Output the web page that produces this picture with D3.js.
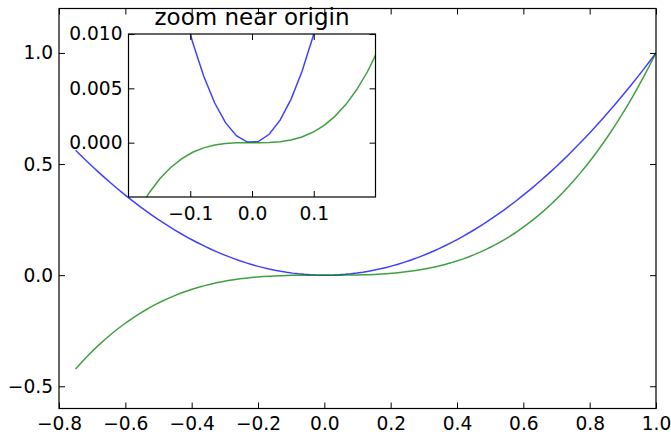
<!DOCTYPE html>
<html>
<head>
<meta charset="utf-8">
<script src="https://cdn.jsdelivr.net/npm/d3@7"></script>
<style>
  html, body { margin: 0; padding: 0; background: #fff; }
  text { font-family: "DejaVu Sans", sans-serif; fill: #000; }
</style>
</head>
<body>
<svg id="chart" width="671" height="434"></svg>
<script>
// sample positions along x
const xValues = [
  -0.7500, -0.7323, -0.7146, -0.6970, -0.6793, -0.6616, -0.6439, -0.6263, -0.6086, -0.5909,
  -0.5732, -0.5556, -0.5379, -0.5202, -0.5025, -0.4848, -0.4672, -0.4495, -0.4318, -0.4141,
  -0.3965, -0.3788, -0.3611, -0.3434, -0.3258, -0.3081, -0.2904, -0.2727, -0.2551, -0.2374,
  -0.2197, -0.2020, -0.1843, -0.1667, -0.1490, -0.1313, -0.1136, -0.0960, -0.0783, -0.0606,
  -0.0429, -0.0253, -0.0076, 0.0101, 0.0278, 0.0455, 0.0631, 0.0808, 0.0985, 0.1162,
  0.1338, 0.1515, 0.1692, 0.1869, 0.2045, 0.2222, 0.2399, 0.2576, 0.2753, 0.2929,
  0.3106, 0.3283, 0.3460, 0.3636, 0.3813, 0.3990, 0.4167, 0.4343, 0.4520, 0.4697,
  0.4874, 0.5051, 0.5227, 0.5404, 0.5581, 0.5758, 0.5934, 0.6111, 0.6288, 0.6465,
  0.6641, 0.6818, 0.6995, 0.7172, 0.7348, 0.7525, 0.7702, 0.7879, 0.8056, 0.8232,
  0.8409, 0.8586, 0.8763, 0.8939, 0.9116, 0.9293, 0.9470, 0.9646, 0.9823, 1.0000
];

// blue curve
const blueValues = [
  0.562500, 0.536297, 0.510719, 0.485767, 0.461439, 0.437736, 0.414658, 0.392205, 0.370377, 0.349173,
  0.328595, 0.308642, 0.289314, 0.270610, 0.252531, 0.235078, 0.218250, 0.202045, 0.186466, 0.171513,
  0.157184, 0.143480, 0.130401, 0.117947, 0.106118, 0.094914, 0.084334, 0.074380, 0.065051, 0.056346,
  0.048267, 0.040812, 0.033982, 0.027778, 0.022198, 0.017243, 0.012913, 0.009208, 0.006128, 0.003673,
  0.001843, 0.000638, 0.0000574, 0.000102, 0.000772, 0.002066, 0.003986, 0.006530, 0.009699, 0.013494,
  0.017913, 0.022957, 0.028625, 0.034920, 0.041839, 0.049383, 0.057552, 0.066345, 0.075764, 0.085807,
  0.096476, 0.107770, 0.119688, 0.132231, 0.145400, 0.159193, 0.173611, 0.188654, 0.204322, 0.220615,
  0.237533, 0.255076, 0.273244, 0.292036, 0.311454, 0.331497, 0.352164, 0.373457, 0.395374, 0.417917,
  0.441083, 0.464876, 0.489293, 0.514336, 0.540002, 0.566294, 0.593211, 0.620753, 0.648920, 0.677711,
  0.707128, 0.737170, 0.767837, 0.799127, 0.831044, 0.863585, 0.896752, 0.930542, 0.964958, 1.000000
];

// green curve
const greenValues = [
  -0.421875, -0.392743, -0.364984, -0.338565, -0.313453, -0.289613, -0.267014, -0.245623, -0.225406, -0.206329,
  -0.188361, -0.171468, -0.155616, -0.140772, -0.126904, -0.113977, -0.101960, -0.090818, -0.080519, -0.071030,
  -0.062318, -0.054348, -0.047089, -0.040507, -0.034569, -0.029241, -0.024491, -0.020285, -0.016591, -0.013375,
  -0.010604, -0.008245, -0.006264, -0.004630, -0.003307, -0.002264, -0.001467, -0.000884, -0.000480, -0.000223,
  -0.0000791, -0.0000161, -0.00000043, 0.00000103, 0.0000214, 0.0000939, 0.000252, 0.000528, 0.000955, 0.001567,
  0.002397, 0.003478, 0.004843, 0.006525, 0.008558, 0.010974, 0.013807, 0.017089, 0.020854, 0.025135,
  0.029966, 0.035379, 0.041407, 0.048084, 0.055443, 0.063516, 0.072338, 0.081940, 0.092358, 0.103622,
  0.115767, 0.128826, 0.142832, 0.157818, 0.173817, 0.190862, 0.208986, 0.228224, 0.248606, 0.270169,
  0.292941, 0.316961, 0.342258, 0.368867, 0.396819, 0.426150, 0.456892, 0.489078, 0.522741, 0.557913,
  0.594630, 0.632924, 0.672828, 0.714371, 0.757593, 0.802523, 0.849197, 0.897643, 0.947900, 1.000000
];

const mainXTicks = [-0.8, -0.6, -0.4, -0.2, 0.0, 0.2, 0.4, 0.6, 0.8, 1.0];
const mainYTicks = [-0.5, 0.0, 0.5, 1.0];
const insetXTicks = [-0.1, 0.0, 0.1];
const insetYTicks = [0.000, 0.005, 0.010];
const insetTitle = "zoom near origin";

const svg = d3.select("#chart");
const points = xValues.map((x, i) => ({ x: x, blue: blueValues[i], green: greenValues[i] }));

function drawAxes(opts) {
  const g = svg.append("g")
    .attr("transform", `translate(${opts.left},${opts.top})`);

  const x = d3.scaleLinear().domain(opts.xDomain).range([0, opts.width]);
  const y = d3.scaleLinear().domain(opts.yDomain).range([opts.height, 0]);

  g.append("rect")
    .attr("width", opts.width)
    .attr("height", opts.height)
    .attr("fill", "#fff");

  const clipId = "clip-" + opts.name;
  g.append("clipPath").attr("id", clipId)
    .append("rect")
    .attr("width", opts.width)
    .attr("height", opts.height);

  const lines = g.append("g").attr("clip-path", `url(#${clipId})`);

  const blueLine = d3.line().x(d => x(d.x)).y(d => y(d.blue));
  const greenLine = d3.line().x(d => x(d.x)).y(d => y(d.green));

  lines.append("path")
    .datum(points)
    .attr("fill", "none")
    .attr("stroke", "#0000ff")
    .attr("stroke-width", 1.5)
    .attr("stroke-opacity", 0.75)
    .attr("d", blueLine);

  lines.append("path")
    .datum(points)
    .attr("fill", "none")
    .attr("stroke", "#008000")
    .attr("stroke-width", 1.5)
    .attr("stroke-opacity", 0.75)
    .attr("d", greenLine);

  const tickLen = 6;
  const fmtX = d3.format(opts.xFormat);
  const fmtY = d3.format(opts.yFormat);

  // inward ticks on all four sides, labels on bottom and left
  const bottom = g.append("g").attr("transform", `translate(0,${opts.height})`)
    .call(d3.axisBottom(x).tickValues(opts.xTicks).tickSize(-tickLen).tickPadding(opts.xPad).tickFormat(fmtX));
  const top = g.append("g")
    .call(d3.axisTop(x).tickValues(opts.xTicks).tickSize(-tickLen).tickFormat(""));
  const left = g.append("g")
    .call(d3.axisLeft(y).tickValues(opts.yTicks).tickSize(-tickLen).tickPadding(6).tickFormat(fmtY));
  const right = g.append("g").attr("transform", `translate(${opts.width},0)`)
    .call(d3.axisRight(y).tickValues(opts.yTicks).tickSize(-tickLen).tickFormat(""));

  [bottom, top, left, right].forEach(ax => {
    ax.select(".domain").remove();
    ax.selectAll("line").attr("stroke", "#000").attr("stroke-width", 1);
    ax.selectAll("text")
      .attr("font-family", "DejaVu Sans, sans-serif")
      .attr("font-size", 18.6)
      .attr("fill", "#000");
  });

  g.append("rect")
    .attr("width", opts.width)
    .attr("height", opts.height)
    .attr("fill", "none")
    .attr("stroke", "#000")
    .attr("stroke-width", 1.2);

  return g;
}

drawAxes({
  name: "main",
  left: 59, top: 8.5, width: 597, height: 400,
  xDomain: [-0.8, 1.0], yDomain: [-0.6, 1.2],
  xTicks: mainXTicks, yTicks: mainYTicks,
  xFormat: ".1f", yFormat: ".1f", xPad: 8
});

const inset = drawAxes({
  name: "inset",
  left: 128.5, top: 34, width: 247, height: 163,
  xDomain: [-0.2, 0.2], yDomain: [-0.005, 0.01],
  xTicks: insetXTicks, yTicks: insetYTicks,
  xFormat: ".1f", yFormat: ".3f", xPad: 10
});

inset.append("text")
  .attr("x", 247 / 2)
  .attr("y", -9)
  .attr("text-anchor", "middle")
  .attr("font-size", 23)
  .text(insetTitle);
</script>
</body>
</html>
